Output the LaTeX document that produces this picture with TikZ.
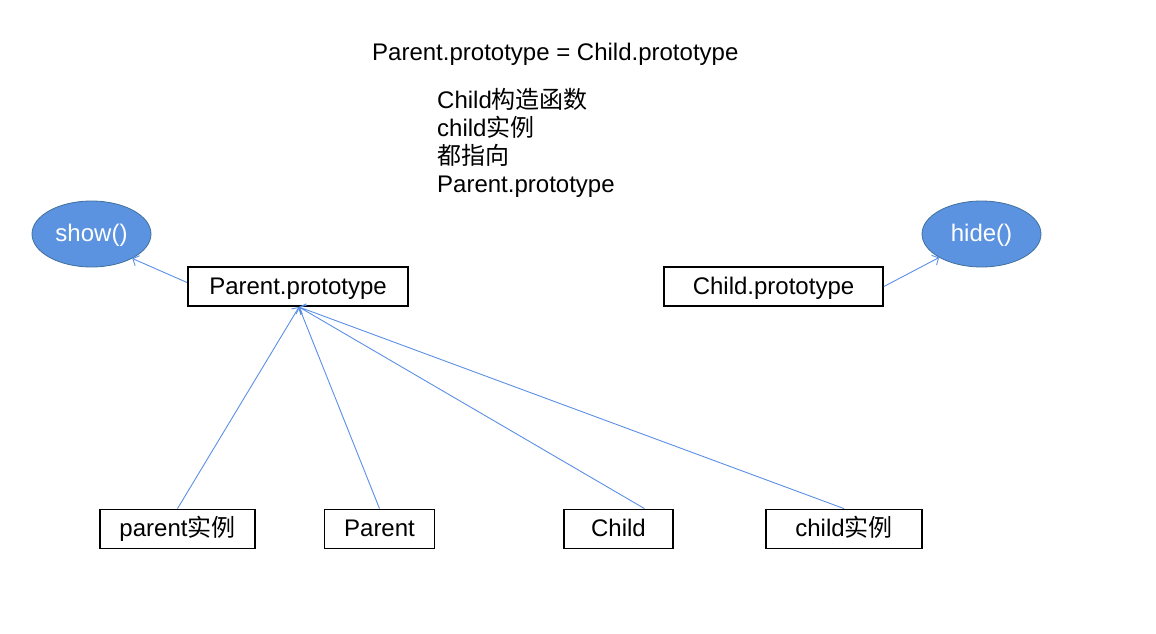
\documentclass[tikz,border=0pt]{standalone}
\usepackage{fontspec}
\setmainfont{Liberation Sans}
\newfontfamily\cjk{Noto Sans CJK SC}
\usetikzlibrary{arrows.meta,shapes.geometric}
\definecolor{ellfill}{HTML}{5B93E1}
\definecolor{elldraw}{HTML}{41719C}
\definecolor{arrcol}{HTML}{5B8FE6}
\tikzset{
  txt/.style={font=\fontsize{24}{28}\selectfont, inner sep=0pt},
  box/.style={draw=black, line width=1.8pt, minimum height=39pt, inner sep=0pt, text height=18pt, text depth=3pt, font=\fontsize{24}{28}\selectfont},
  ell/.style={ellipse, draw=elldraw, line width=0.8pt, fill=ellfill, text=white, minimum width=119pt, minimum height=66pt, inner sep=0pt, text height=18pt, text depth=3pt, font=\fontsize{24}{28}\selectfont},
  arr/.style={draw=arrcol, line width=0.9pt, -{Straight Barb[length=5pt,width=11pt]}}
}
\begin{document}
\begin{tikzpicture}[x=1pt,y=-1pt]
\useasboundingbox (0,0) rectangle (1156,634);
\node[txt, anchor=base west] (title) at (372,60) {Parent.prototype = Child.prototype};
\node[txt, anchor=base west] (l1) at (437,108) {Child{\cjk 构造函数}};
\node[txt, anchor=base west] (l2) at (437,136.5) {child{\cjk 实例}};
\node[txt, anchor=base west] (l3) at (437,164.5) {{\cjk 都指向}};
\node[txt, anchor=base west] (l4) at (437,192) {Parent.prototype};

\node[ell] (show) at (91.5,234) {show()};
\node[ell] (hide) at (981.5,234) {hide()};

\node[box, minimum width=220pt] (pp) at (298,286.5) {Parent.prototype};
\node[box, minimum width=219pt] (cp) at (773.5,286.5) {Child.prototype};

\node[box, minimum width=155pt] (pi) at (177.5,529) {parent{\cjk 实例}};
\node[box, minimum width=110pt] (par) at (379.5,529) {Parent};
\node[box, minimum width=109pt] (chi) at (618.5,529) {Child};
\node[box, minimum width=156pt] (ci) at (844,529) {child{\cjk 实例}};

\coordinate (tip) at (299,307);
\draw[arr] ([yshift=4pt]pp.west) -- (show.-31);
\draw[arr] (cp.east) -- (hide.-151);
\draw[arr] (pi.north) -- (tip);
\draw[arr] (par.north) -- (tip);
\draw[arr] ([xshift=26pt]chi.north) -- (tip);
\draw[arr] (ci.north) -- (tip);
\end{tikzpicture}
\end{document}
